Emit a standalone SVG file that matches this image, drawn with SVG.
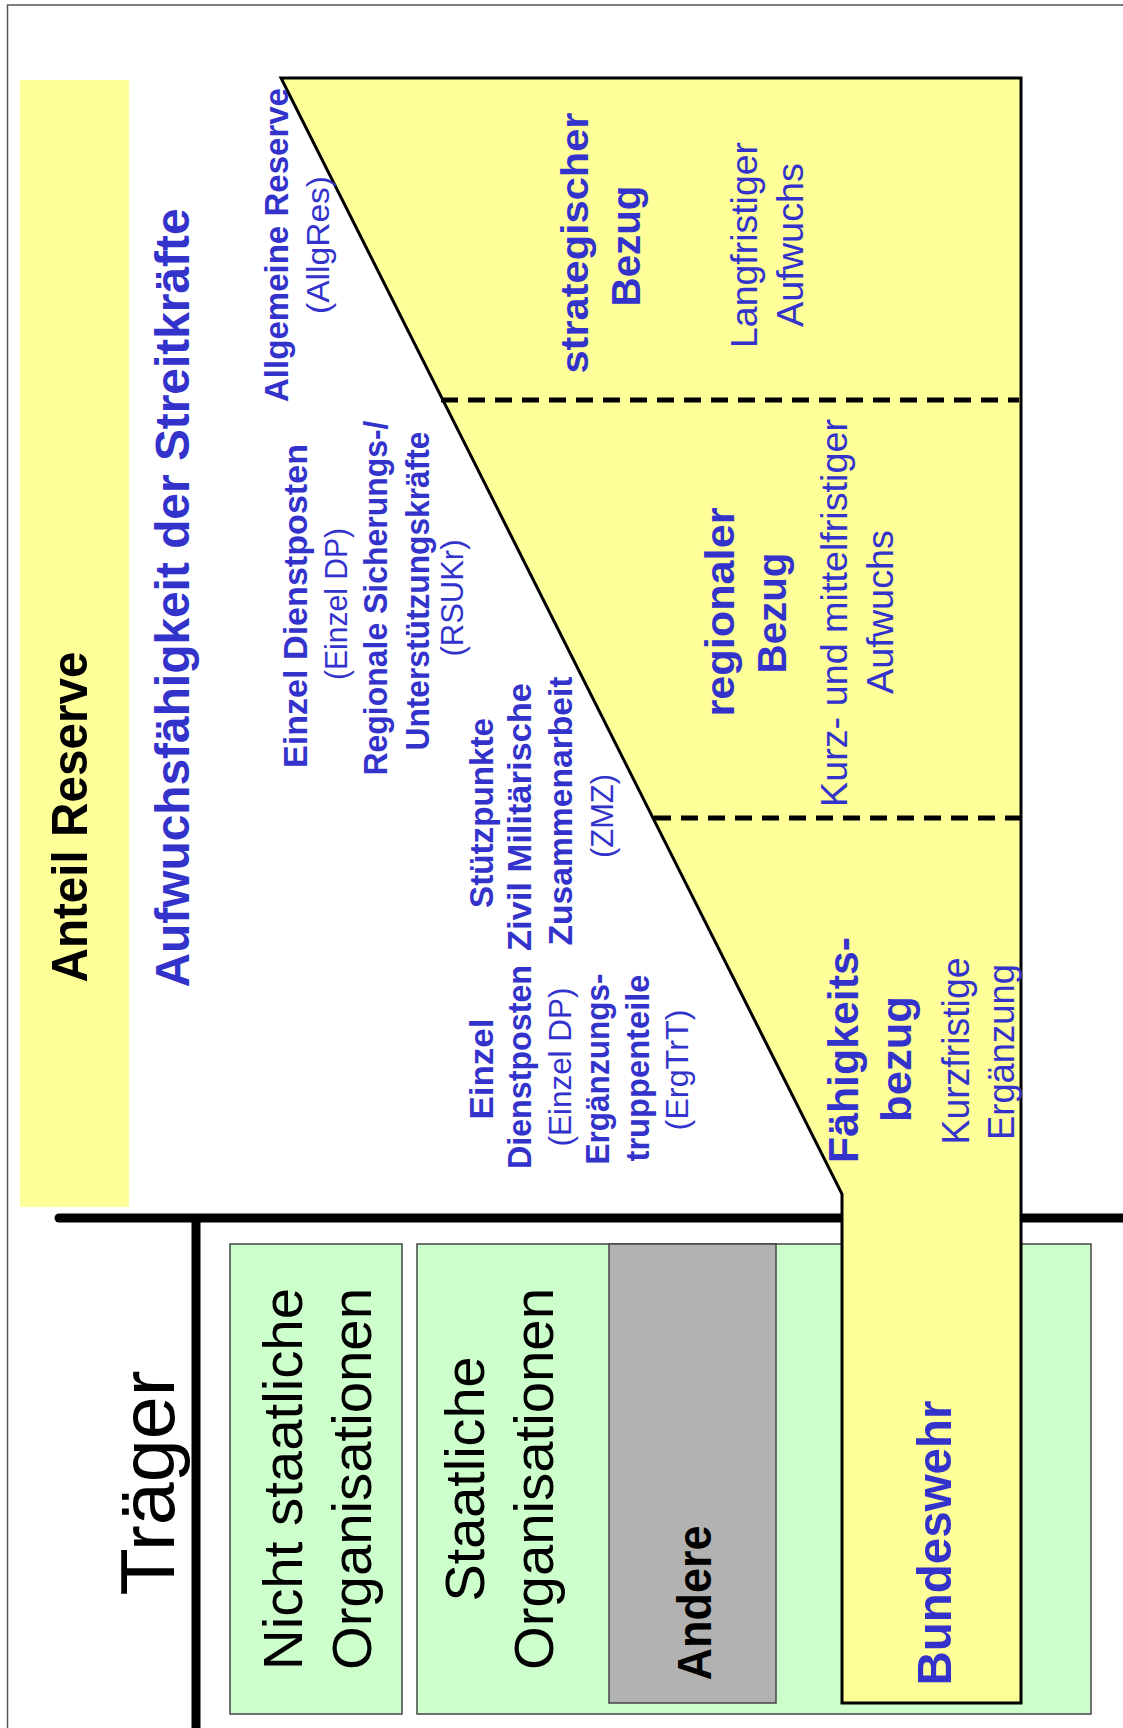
<svg xmlns="http://www.w3.org/2000/svg" width="1123" height="1728" viewBox="0 0 1123 1728">
<style>
text{font-family:"Liberation Sans",Arial,sans-serif;text-anchor:middle}
.b{font-weight:bold;fill:#3333CC}
.r{fill:#3333CC}
.kb{font-weight:bold;fill:#000}
.k{fill:#000}
.green{fill:#CCFFCC;stroke:#444;stroke-width:1.5}
.dash{stroke:#000;stroke-width:5;stroke-dasharray:17 10;fill:none}
.thick{stroke:#000;stroke-width:9;fill:none}
</style>
<rect x="0" y="0" width="1123" height="1728" fill="#fff"/>
<path d="M7.5,1728 V5 H1123" fill="none" stroke="#555" stroke-width="1.5"/>

<g id="banner">
<rect x="20" y="80" width="109" height="1127" fill="#FFFF99"/>
<text class="kb" font-size="50" textLength="331" lengthAdjust="spacingAndGlyphs" transform="translate(87,817) rotate(-90)">Anteil Reserve</text>
</g>

<g id="title">
<text class="b" font-size="48" textLength="779" lengthAdjust="spacingAndGlyphs" transform="translate(189,598) rotate(-90)">Aufwuchsfähigkeit der Streitkräfte</text>
</g>

<g id="traeger">
<text class="k" font-size="76" textLength="225" lengthAdjust="spacingAndGlyphs" transform="translate(174,1483) rotate(-90)">Träger</text>
</g>

<g id="nichtstaatlich">
<rect class="green" x="230" y="1244" width="172" height="470"/>
<text class="k" font-size="56" textLength="382" lengthAdjust="spacingAndGlyphs" transform="translate(302,1479) rotate(-90)">Nicht staatliche</text>
<text class="k" font-size="56" textLength="382" lengthAdjust="spacingAndGlyphs" transform="translate(371,1479) rotate(-90)">Organisationen</text>
</g>

<g id="staatlich">
<rect class="green" x="417" y="1244" width="674" height="470"/>
<text class="k" font-size="56" textLength="245" lengthAdjust="spacingAndGlyphs" transform="translate(484,1479) rotate(-90)">Staatliche</text>
<text class="k" font-size="56" textLength="382" lengthAdjust="spacingAndGlyphs" transform="translate(553,1479) rotate(-90)">Organisationen</text>
</g>

<g id="andere">
<rect x="609" y="1244" width="167" height="459" fill="#B2B2B2" stroke="#444" stroke-width="1.5"/>
<text class="kb" font-size="48" textLength="155" lengthAdjust="spacingAndGlyphs" transform="translate(711,1603) rotate(-90)">Andere</text>
</g>

<g id="connectors">
<line class="thick" x1="59" y1="1218" x2="1123" y2="1218" stroke-linecap="round"/>
<line class="thick" x1="196" y1="1218" x2="196" y2="1728"/>
</g>

<g id="reserve-shape">
<polygon points="281,78 1021,78 1021,1703 842,1703 842,1194" fill="#FFFF99" stroke="#000" stroke-width="3" stroke-linejoin="miter"/>
<line class="dash" x1="441" y1="400" x2="1019" y2="400"/>
<line class="dash" x1="654" y1="818" x2="1027" y2="818"/>
</g>

<g id="allgres">
<text class="b" font-size="33" textLength="314" lengthAdjust="spacingAndGlyphs" transform="translate(288,245) rotate(-90)">Allgemeine Reserve</text>
<text class="r" font-size="31" textLength="138" lengthAdjust="spacingAndGlyphs" transform="translate(329,245) rotate(-90)">(AllgRes)</text>
</g>

<g id="rsukr">
<text class="b" font-size="34" textLength="324" lengthAdjust="spacingAndGlyphs" transform="translate(307,606) rotate(-90)">Einzel Dienstposten</text>
<text class="r" font-size="31" textLength="152" lengthAdjust="spacingAndGlyphs" transform="translate(347,604) rotate(-90)">(Einzel DP)</text>
<text class="b" font-size="33" textLength="355" lengthAdjust="spacingAndGlyphs" transform="translate(387,598) rotate(-90)">Regionale Sicherungs-/</text>
<text class="b" font-size="33" textLength="319" lengthAdjust="spacingAndGlyphs" transform="translate(429,591) rotate(-90)">Unterstützungskräfte</text>
<text class="r" font-size="31" textLength="117" lengthAdjust="spacingAndGlyphs" transform="translate(463,598) rotate(-90)">(RSUKr)</text>
</g>

<g id="zmz">
<text class="b" font-size="33" textLength="190" lengthAdjust="spacingAndGlyphs" transform="translate(493,813) rotate(-90)">Stützpunkte</text>
<text class="b" font-size="33" textLength="268" lengthAdjust="spacingAndGlyphs" transform="translate(531,817) rotate(-90)">Zivil Militärische</text>
<text class="b" font-size="33" textLength="269" lengthAdjust="spacingAndGlyphs" transform="translate(572,811) rotate(-90)">Zusammenarbeit</text>
<text class="r" font-size="31" textLength="84" lengthAdjust="spacingAndGlyphs" transform="translate(613,816) rotate(-90)">(ZMZ)</text>
</g>

<g id="ergtrt">
<text class="b" font-size="33" textLength="101" lengthAdjust="spacingAndGlyphs" transform="translate(493,1069) rotate(-90)">Einzel</text>
<text class="b" font-size="33" textLength="204" lengthAdjust="spacingAndGlyphs" transform="translate(531,1067) rotate(-90)">Dienstposten</text>
<text class="r" font-size="31" textLength="159" lengthAdjust="spacingAndGlyphs" transform="translate(571,1067) rotate(-90)">(Einzel DP)</text>
<text class="b" font-size="33" textLength="191" lengthAdjust="spacingAndGlyphs" transform="translate(609,1069) rotate(-90)">Ergänzungs-</text>
<text class="b" font-size="33" textLength="187" lengthAdjust="spacingAndGlyphs" transform="translate(649,1068) rotate(-90)">truppenteile</text>
<text class="r" font-size="31" textLength="121" lengthAdjust="spacingAndGlyphs" transform="translate(688,1070) rotate(-90)">(ErgTrT)</text>
</g>

<g id="strategisch">
<text class="b" font-size="38" textLength="261" lengthAdjust="spacingAndGlyphs" transform="translate(588,243) rotate(-90)">strategischer</text>
<text class="b" font-size="40" textLength="121" lengthAdjust="spacingAndGlyphs" transform="translate(640,246) rotate(-90)">Bezug</text>
<text class="r" font-size="37" textLength="206" lengthAdjust="spacingAndGlyphs" transform="translate(757,245) rotate(-90)">Langfristiger</text>
<text class="r" font-size="37" textLength="164" lengthAdjust="spacingAndGlyphs" transform="translate(803,245) rotate(-90)">Aufwuchs</text>
</g>

<g id="regional">
<text class="b" font-size="40" textLength="209" lengthAdjust="spacingAndGlyphs" transform="translate(734,612) rotate(-90)">regionaler</text>
<text class="b" font-size="40" textLength="121" lengthAdjust="spacingAndGlyphs" transform="translate(786,613) rotate(-90)">Bezug</text>
<text class="r" font-size="37" textLength="388" lengthAdjust="spacingAndGlyphs" transform="translate(847,613) rotate(-90)">Kurz- und mittelfristiger</text>
<text class="r" font-size="37" textLength="164" lengthAdjust="spacingAndGlyphs" transform="translate(893,612) rotate(-90)">Aufwuchs</text>
</g>

<g id="faehigkeit">
<text class="b" font-size="43" textLength="226" lengthAdjust="spacingAndGlyphs" transform="translate(858,1050) rotate(-90)">Fähigkeits-</text>
<text class="b" font-size="43" textLength="126" lengthAdjust="spacingAndGlyphs" transform="translate(911,1059) rotate(-90)">bezug</text>
<text class="r" font-size="38" textLength="187" lengthAdjust="spacingAndGlyphs" transform="translate(969,1051) rotate(-90)">Kurzfristige</text>
<text class="r" font-size="37" textLength="176" lengthAdjust="spacingAndGlyphs" transform="translate(1014,1052) rotate(-90)">Ergänzung</text>
</g>

<g id="bundeswehr">
<text class="b" font-size="49" textLength="285" lengthAdjust="spacingAndGlyphs" transform="translate(951,1543) rotate(-90)">Bundeswehr</text>
</g>
</svg>
